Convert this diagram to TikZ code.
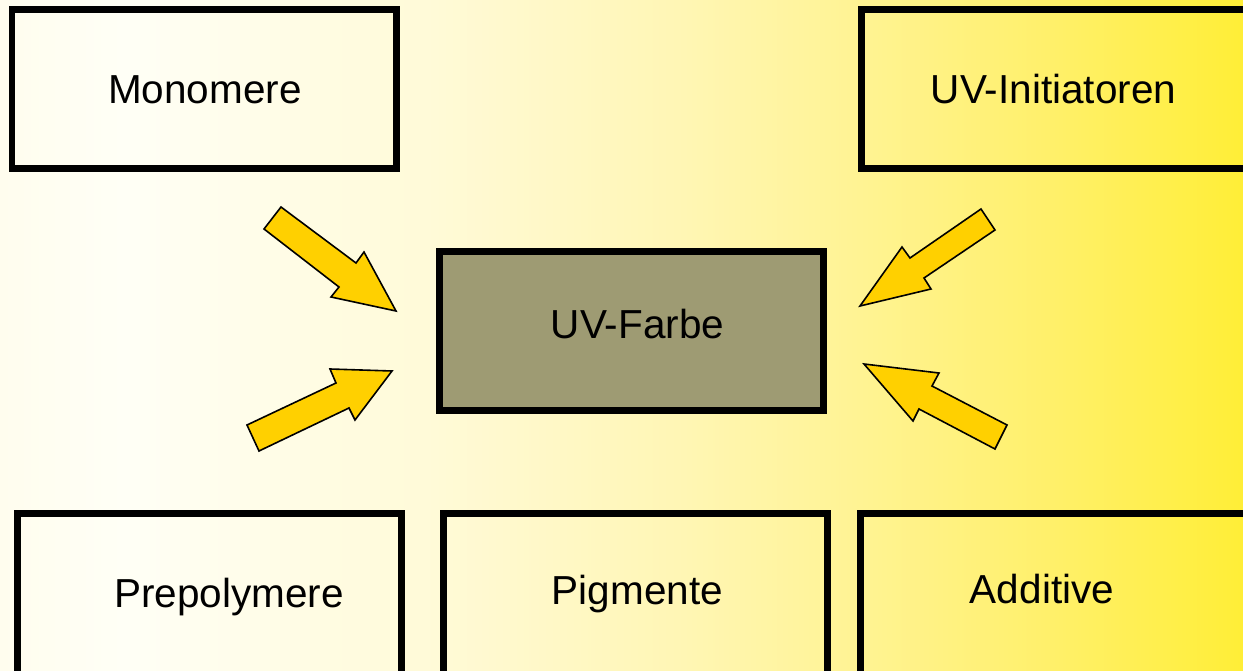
\documentclass[tikz,border=0pt]{standalone}
\usepackage{fontspec}
\setmainfont{Liberation Sans}
\definecolor{bg0}{RGB}{255,253,238}
\definecolor{bg1}{RGB}{255,255,246}
\definecolor{bg2}{RGB}{255,250,215}
\definecolor{bg3}{RGB}{255,246,180}
\definecolor{bg4}{RGB}{255,243,145}
\definecolor{bg5}{RGB}{255,240,105}
\definecolor{bg6}{RGB}{255,238,55}
\definecolor{arrowfill}{RGB}{255,208,0}
\definecolor{centerfill}{RGB}{158,155,115}
\pgfdeclarehorizontalshading{bgshade}{100bp}{color(0bp)=(bg0); color(25bp)=(bg0); color(30bp)=(bg1); color(42.5bp)=(bg2); color(52.5bp)=(bg3); color(60bp)=(bg4); color(67.5bp)=(bg5); color(75bp)=(bg6); color(100bp)=(bg6)}
\tikzset{
  box/.style={draw=black, line width=6.5pt, rectangle, inner sep=0pt},
  lbl/.style={anchor=base, inner sep=0pt, font=\fontsize{40.5}{48}\selectfont, text=black},
  blockarrow/.style={draw=black, line width=1.6pt, fill=arrowfill, line join=miter}
}
\begin{document}
\begin{tikzpicture}[x=1pt,y=-1pt]
\clip (0,0) rectangle (1243,671);
\shade[shading=bgshade] (0,0) rectangle (1243,671);
% boxes
\node[box, minimum width=384.5pt, minimum height=159pt] (mono) at (204.25,89) {};
\node[box, minimum width=384.5pt, minimum height=159pt] (init) at (1053.75,89) {};
\node[box, fill=centerfill, minimum width=384pt, minimum height=159pt] (farbe) at (631.5,331) {};
\node[box, minimum width=384pt, minimum height=200pt] (prep) at (209.5,613.5) {};
\node[box, minimum width=384pt, minimum height=200pt] (pigm) at (635.5,613.5) {};
\node[box, minimum width=385.5pt, minimum height=200pt] (addi) at (1053.25,613.5) {};
% labels
\node[lbl] (mono-t) at (205,103.5) {Monomere};
\node[lbl] (init-t) at (1053.5,103.5) {UV-Initiatoren};
\node[lbl] (farbe-t) at (637.5,338) {UV-Farbe};
\node[lbl] (prep-t) at (229,607) {Prepolymere};
\node[lbl] (pigm-t) at (637.5,604) {Pigmente};
\node[lbl] (addi-t) at (1042,603) {Additive};
% block arrows
\draw[blockarrow] (281,207) -- (356,263) -- (364,252) -- (396,311) -- (331,297) -- (339,287) -- (264,229) -- cycle;
\draw[blockarrow] (247,425) -- (336,383) -- (330,369) -- (392,371) -- (355,420) -- (349,408) -- (259,451) -- cycle;
\draw[blockarrow] (981,209) -- (995,230) -- (924,278) -- (931,289) -- (860,306) -- (902,247) -- (910,258) -- cycle;
\draw[blockarrow] (864,364) -- (939,373) -- (932,386) -- (1007,425) -- (995,449) -- (919,409) -- (913,421) -- cycle;
\end{tikzpicture}
\end{document}
